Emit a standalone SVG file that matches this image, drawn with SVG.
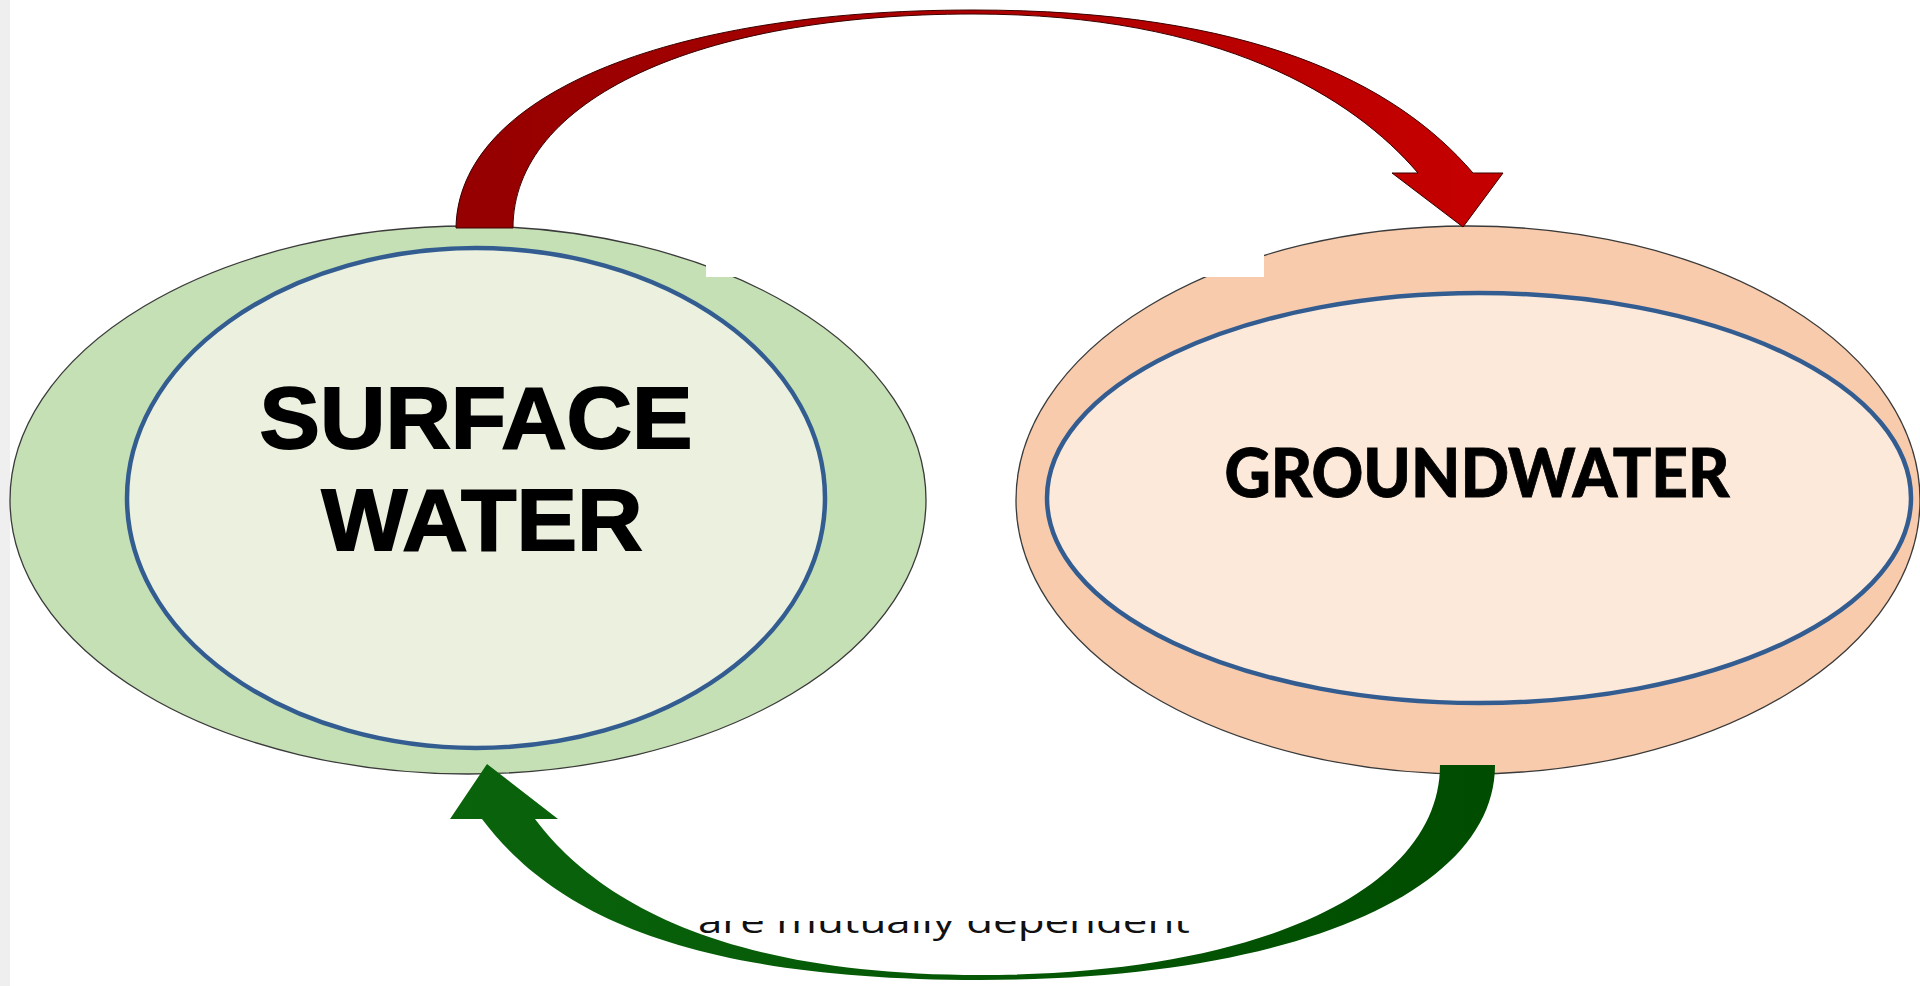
<svg xmlns="http://www.w3.org/2000/svg" width="1920" height="986" viewBox="0 0 1920 986">
<defs>
<style>
.outer{stroke:#3a3a3a;stroke-width:1.3}
.inner{stroke:#335d91;stroke-width:4.5}
.sw{font-family:"Liberation Sans",Arial,sans-serif;font-weight:bold;font-size:88px;fill:#000;stroke:#000;stroke-width:1.8;text-anchor:middle}
.gw{font-family:Lato,"Liberation Sans",sans-serif;font-weight:900;font-size:67px;fill:#000;stroke:#000;stroke-width:0.8;text-anchor:middle}
.cap{font-family:"Open Sans","Liberation Sans",sans-serif;font-size:33px;fill:#111}
</style>
<linearGradient id="redG" gradientUnits="userSpaceOnUse" x1="456" y1="0" x2="1503" y2="0">
<stop offset="0" stop-color="#950000"/>
<stop offset="1" stop-color="#c60000"/>
</linearGradient>
<linearGradient id="greenG" gradientUnits="userSpaceOnUse" x1="450" y1="0" x2="1495" y2="0">
<stop offset="0" stop-color="#0a640c"/>
<stop offset="1" stop-color="#004c00"/>
</linearGradient>
<clipPath id="capClip"><rect x="600" y="921" width="700" height="30"/></clipPath>
</defs>
<rect x="0" y="0" width="1920" height="986" fill="#ffffff"/>
<rect x="0" y="0" width="10" height="986" fill="#efefef"/>

<g id="surface-water">
<ellipse class="outer" cx="468" cy="500" rx="458" ry="274" fill="#c5e0b4"/>
<ellipse class="inner" cx="476" cy="498" rx="349" ry="250" fill="#ebf0df"/>
</g>
<g id="groundwater">
<ellipse class="outer" cx="1468" cy="500" rx="452" ry="274" fill="#f8cbad"/>
<ellipse class="inner" cx="1479" cy="498" rx="432" ry="205" fill="#fce9da"/>
</g>

<rect x="706" y="60" width="558" height="217" fill="#ffffff"/>

<g id="connectors">
<path d="M456,228 C458,97 663,10 973,10 C1250,10 1395,82 1473,173 L1503,173 L1463,227 L1392,173 L1418,173 C1353,97 1220,14 973,14 C697,14 513,100 513,228 Z" fill="url(#redG)" stroke="#3a0000" stroke-width="1"/>
<path d="M1495,765 C1495,894 1289,980 980,980 C690,980 554,915 482,819 L450,819 L487,764 L558,819 L535,819 C595,899 720,975 980,975 C1256,975 1440,891 1440,765 Z" fill="url(#greenG)"/>
</g>

<g id="labels">
<text class="sw" x="476" y="448" textLength="433" lengthAdjust="spacingAndGlyphs">SURFACE</text>
<text class="sw" x="482" y="550" textLength="321" lengthAdjust="spacingAndGlyphs">WATER</text>
<text class="gw" x="1477" y="497" textLength="505" lengthAdjust="spacingAndGlyphs">GROUNDWATER</text>
<g clip-path="url(#capClip)">
<text class="cap" x="698" y="933" textLength="492" lengthAdjust="spacingAndGlyphs">are mutually dependent</text>
</g>
</g>
</svg>
